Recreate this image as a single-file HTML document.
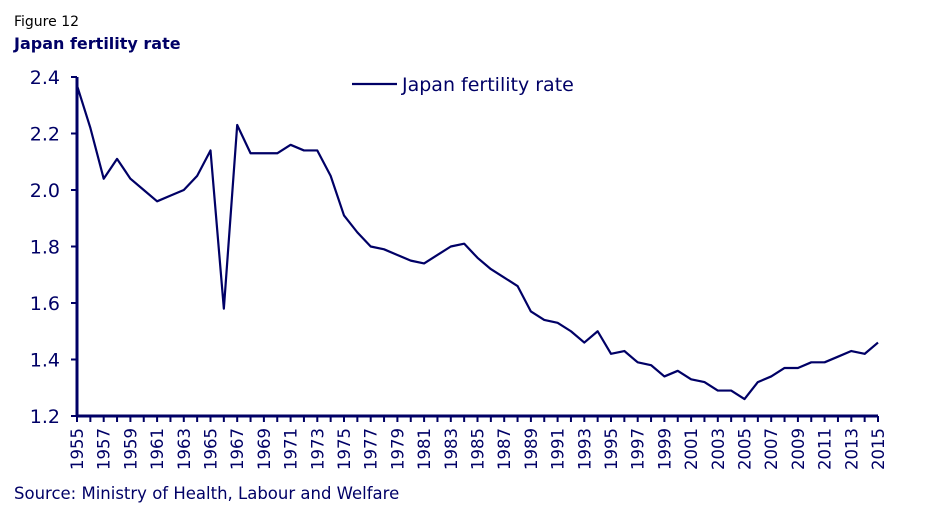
<!DOCTYPE html>
<html><head><meta charset="utf-8"><style>
body{margin:0;background:#fff;width:929px;height:514px;overflow:hidden;font-family:"DejaVu Sans",Verdana,sans-serif;}
svg{position:absolute;left:0;top:0;font-family:"DejaVu Sans",Verdana,sans-serif}
</style></head><body>
<svg width="929" height="514">
<text x="14" y="26" font-size="14" fill="#000">Figure 12</text>
<text x="14" y="49" font-size="16" font-weight="bold" fill="#000066">Japan fertility rate</text>
<g id="axes"></g>
<polyline id="line" fill="none" stroke="#000066" stroke-width="2.2" stroke-linejoin="round"/>
<line x1="352" y1="84" x2="397" y2="84" stroke="#000066" stroke-width="2.2"/>
<text x="402" y="91" font-size="19" fill="#000066">Japan fertility rate</text>
<text x="14" y="499" font-size="16.5" fill="#000066">Source: Ministry of Health, Labour and Welfare</text>
</svg>
<script>
const years=[];for(let y=1955;y<=2015;y++)years.push(y);
const rates=[2.37,2.22,2.04,2.11,2.04,2.00,1.96,1.98,2.00,2.05,2.14,1.58,2.23,2.13,2.13,2.13,2.16,2.14,2.14,2.05,1.91,1.85,1.80,1.79,1.77,1.75,1.74,1.77,1.80,1.81,1.76,1.72,1.69,1.66,1.57,1.54,1.53,1.50,1.46,1.50,1.42,1.43,1.39,1.38,1.34,1.36,1.33,1.32,1.29,1.29,1.26,1.32,1.34,1.37,1.37,1.39,1.39,1.41,1.43,1.42,1.46];
const yTicks=[1.2,1.4,1.6,1.8,2.0,2.2,2.4];
const X0=77,X1=878,Y0=416,Y1=77;
const xs=y=>X0+(y-1955)*(X1-X0)/60;
const ys=v=>Y0-(v-1.2)*(Y0-Y1)/1.2;
const NS="http://www.w3.org/2000/svg";
const g=document.getElementById('axes');
function mk(t,a){const e=document.createElementNS(NS,t);for(const k in a)e.setAttribute(k,a[k]);g.appendChild(e);return e;}
let e=mk('line',{x1:X0,y1:Y1,x2:X0,y2:Y0,stroke:'#000066','stroke-width':3});


e=mk('line',{x1:X0,y1:Y0,x2:X1,y2:Y0,stroke:'#000066','stroke-width':3});


yTicks.forEach(v=>{
 let t=mk('line',{x1:X0-6,y1:ys(v),x2:X0,y2:ys(v),stroke:'#000066','stroke-width':2});
 
 
 let l=mk('text',{x:X0-17,y:ys(v)+7,'text-anchor':'end','font-size':19,fill:'#000066'});
 l.textContent=v.toFixed(1);
 
 
});
years.forEach(y=>{
 let t=mk('line',{x1:xs(y),y1:Y0,x2:xs(y),y2:Y0+6,stroke:'#000066','stroke-width':2});
 
 
 if((y-1955)%2===0){
  let l=mk('text',{x:0,y:0,'text-anchor':'end','font-size':16.5,fill:'#000066',transform:`translate(${xs(y)+6},${Y0+12}) rotate(-90)`});
  l.textContent=y;
  
  
 }
});
document.getElementById('line').setAttribute('points',years.map((y,i)=>xs(y)+','+ys(rates[i])).join(' '));
</script>
</body></html>
